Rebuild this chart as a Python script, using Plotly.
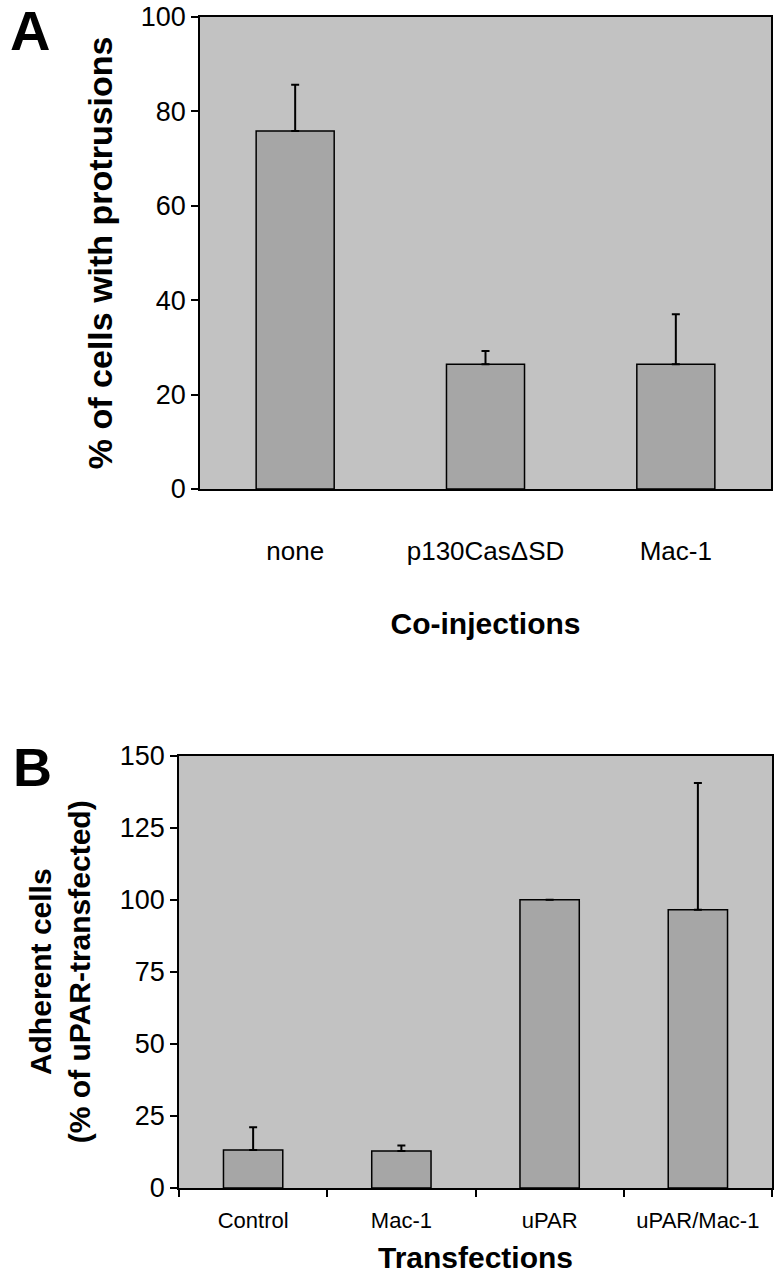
import plotly.graph_objects as go

# Panel A: protrusion assay
coinj = ["none", "p130CasΔSD", "Mac-1"]
protrusions = [75.8, 26.4, 26.4]
protrusions_err = [9.8, 2.8, 10.6]

# Panel B: adhesion assay
transf = ["Control", "Mac-1", "uPAR", "uPAR/Mac-1"]
adherent = [13.2, 12.8, 100, 96.5]
adherent_err = [7.9, 1.9, None, 44]

FONT = "Liberation Sans, Arial, sans-serif"
BG = "#c2c2c2"
BAR = "#a6a6a6"

W, H = 778, 1280


def px(x0, x1):
    return [x0 / W, x1 / W]


def py(top, bottom):
    return [1 - bottom / H, 1 - top / H]


fig = go.Figure()

fig.add_trace(go.Bar(
    x=coinj, y=protrusions, width=0.41,
    marker=dict(color=BAR, line=dict(color="black", width=1.5)),
    error_y=dict(type="data", array=protrusions_err, symmetric=False,
                 arrayminus=[0] * len(coinj), color="black", thickness=2, width=4),
    xaxis="x", yaxis="y", showlegend=False,
))

fig.add_trace(go.Bar(
    x=transf, y=adherent, width=0.4,
    marker=dict(color=BAR, line=dict(color="black", width=1.5)),
    error_y=dict(type="data", array=adherent_err, symmetric=False,
                 arrayminus=[0] * len(transf), color="black", thickness=2, width=4),
    xaxis="x2", yaxis="y2", showlegend=False,
))

axis_common = dict(showgrid=False, zeroline=False, linecolor="black", linewidth=1.5,
                   tickcolor="black", ticklen=7, tickwidth=1.5, automargin=False,
                   showline=True, mirror=True)

fig.update_layout(
    width=W, height=H,
    margin=dict(l=0, r=0, t=0, b=0),
    paper_bgcolor="white",
    plot_bgcolor=BG,
    font=dict(family=FONT, color="black"),
    xaxis=dict(domain=px(200, 771), anchor="y", ticks="",
               ticklabelstandoff=38, tickfont=dict(size=26),
               title=dict(text="<b>Co-injections</b>", font=dict(size=30), standoff=48),
               **axis_common),
    yaxis=dict(domain=py(16.7, 489), anchor="x", range=[0, 100],
               tickvals=[0, 20, 40, 60, 80, 100], ticks="outside",
               tickfont=dict(size=27),
               title=dict(text="<b>% of cells with protrusions</b>", font=dict(size=34), standoff=18),
               **axis_common),
    xaxis2=dict(domain=px(179, 772), anchor="y2", ticks="outside",
                tickson="boundaries", tickfont=dict(size=22), ticklabelstandoff=12,
                title=dict(text="<b>Transfections</b>", font=dict(size=30), standoff=15),
                **axis_common),
    yaxis2=dict(domain=py(755.5, 1188), anchor="x2", range=[0, 150],
                tickvals=[0, 25, 50, 75, 100, 125, 150], ticks="outside",
                tickfont=dict(size=27),
                title=dict(text="<b>Adherent cells<br>(% of uPAR-transfected)</b>",
                           font=dict(size=30), standoff=20),
                **axis_common),
)

fig.add_annotation(text="<b>A</b>", x=8 / W, y=1 - 31 / H, xref="paper", yref="paper",
                   xanchor="left", yanchor="middle", showarrow=False, font=dict(size=56))
fig.add_annotation(text="<b>B</b>", x=11 / W, y=1 - 767 / H, xref="paper", yref="paper",
                   xanchor="left", yanchor="middle", showarrow=False, font=dict(size=54))

# drop the default page margin so the figure sits at the top-left corner
fig.write_html("out.html", config={"displayModeBar": False},
               post_script="document.body.style.margin='0px';")
